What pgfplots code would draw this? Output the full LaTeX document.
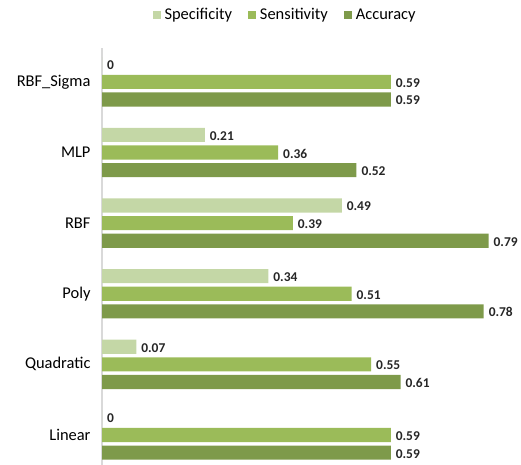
\documentclass[border=0pt]{standalone}
\usepackage{pgfplots}
\pgfplotsset{compat=1.18}
\usepackage{fontspec}
\setmainfont{Carlito}
\definecolor{spec}{HTML}{C4D7A6}
\definecolor{sens}{HTML}{9BBB59}
\definecolor{acc}{HTML}{7E9A4A}
\definecolor{axgray}{HTML}{D9D9D9}
\begin{document}
\begin{tikzpicture}
\useasboundingbox (0,0) rectangle (521bp,465bp);
\begin{axis}[
  at={(102bp,0bp)}, anchor=south west,
  scale only axis,
  width=416bp, height=417bp,
  xmin=0, xmax=0.85,
  ymin=-0.425, ymax=5.48,
  clip=false,
  axis x line=none,
  axis y line*=left,
  y axis line style={draw=axgray, line width=1.2bp, -},
  ytick={0,1,2,3,4,5},
  yticklabels={Linear, Quadratic, Poly, RBF, MLP, RBF\_Sigma},
  major tick length=0pt,
  yticklabel style={font=\fontsize{16.5}{18}\selectfont, xshift=-8bp},
  /pgf/number format/assume math mode=true,
  xbar,
  bar width=0.2,
  nodes near coords={\pgfmathprintnumber[fixed,precision=2]{\pgfplotspointmeta}},
  nodes near coords style={font=\bfseries\fontsize{13.5}{14}\selectfont, xshift=1.5bp, yshift=-1bp, text=black!85},
  legend style={draw=none, at={(0.44,1.079)}, anchor=center, legend columns=-1,
    font=\fontsize{16.5}{18}\selectfont,
    /tikz/every odd column/.append style={column sep=2bp},
    /tikz/every even column/.append style={column sep=14bp}},
]
\addplot[fill=spec, draw=none, bar shift=0.25, legend image code/.code={\fill[spec] (0bp,-4bp) rectangle (8bp,4bp);}] coordinates {(0,0) (0.07,1) (0.34,2) (0.49,3) (0.21,4) (0,5)};
\addplot[fill=sens, draw=none, bar shift=0, legend image code/.code={\fill[sens] (0bp,-4bp) rectangle (8bp,4bp);}] coordinates {(0.59,0) (0.55,1) (0.51,2) (0.39,3) (0.36,4) (0.59,5)};
\addplot[fill=acc, draw=none, bar shift=-0.25, legend image code/.code={\fill[acc] (0bp,-4bp) rectangle (8bp,4bp);}] coordinates {(0.59,0) (0.61,1) (0.78,2) (0.79,3) (0.52,4) (0.59,5)};
\legend{Specificity, Sensitivity, Accuracy}
\end{axis}
\end{tikzpicture}
\end{document}
